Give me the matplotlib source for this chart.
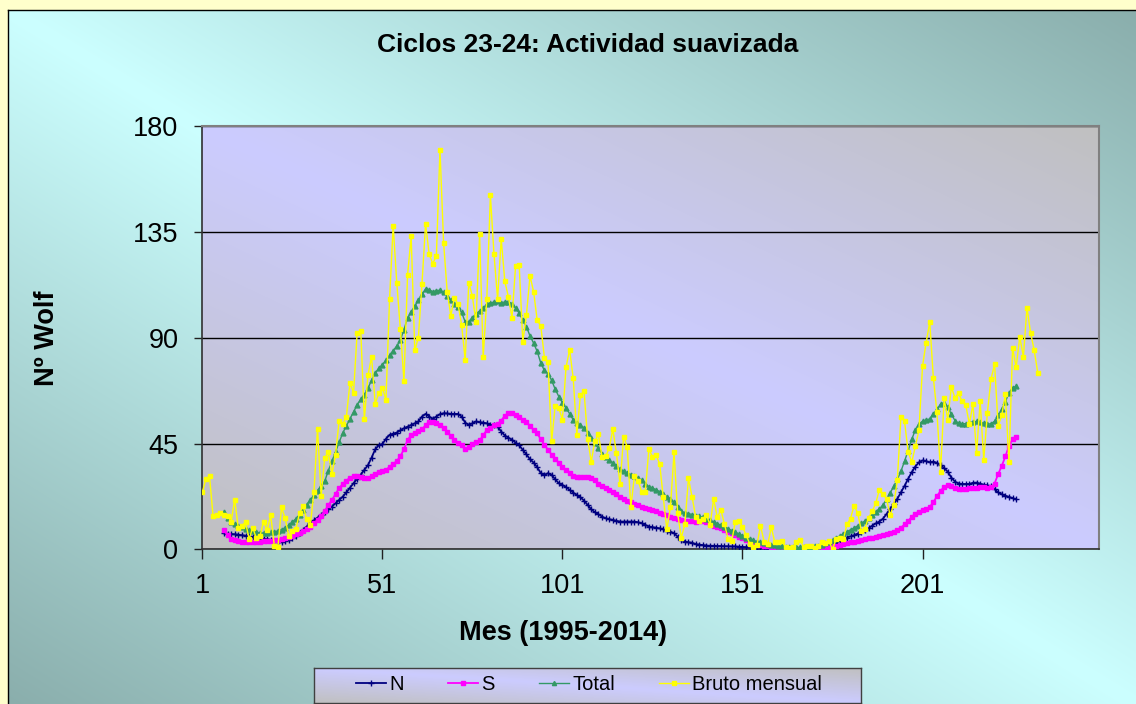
import numpy as np
import matplotlib
matplotlib.use("Agg")
import matplotlib.pyplot as plt
from matplotlib.lines import Line2D

plt.rcParams['font.family'] = ['Liberation Sans', 'DejaVu Sans']

# ---------------- data ----------------
months_raw = list(range(1, 234))
bruto = [
    24.2, 29.9, 31.1, 14.0, 14.5, 15.6, 14.5, 14.3, 11.8, 21.1, 9.0, 10.0,
    11.5, 4.4, 9.2, 4.8, 5.5, 11.8, 8.2, 14.4, 1.6, 0.9, 17.9, 13.3,
    5.7, 7.6, 8.7, 15.5, 18.5, 12.7, 10.4, 24.4, 51.3, 22.8, 39.0, 41.2,
    31.9, 40.3, 54.8, 53.4, 56.3, 70.7, 66.6, 92.2, 92.9, 55.5, 74.0, 81.9,
    62.0, 66.3, 68.8, 63.7, 106.4, 137.7, 113.5, 93.7, 71.5, 116.7, 133.2, 84.6,
    90.1, 112.9, 138.5, 125.5, 121.6, 124.9, 170.1, 130.5, 109.7, 99.4, 106.8, 104.4,
    95.6, 80.6, 113.5, 107.7, 96.6, 134.0, 81.8, 106.4, 150.7, 125.5, 106.5, 132.2,
    114.1, 107.4, 98.4, 120.7, 120.8, 88.3, 99.6, 116.4, 109.6, 97.5, 95.0, 81.6,
    79.5, 46.0, 61.1, 60.0, 55.2, 77.4, 85.0, 72.7, 48.8, 65.6, 67.2, 47.0,
    37.2, 46.0, 48.9, 39.3, 39.5, 43.1, 51.1, 40.9, 27.7, 48.0, 43.5, 17.9,
    31.3, 29.2, 24.5, 24.2, 42.7, 39.3, 40.1, 36.4, 22.1, 8.5, 18.0, 41.2,
    15.3, 4.9, 10.6, 30.2, 22.3, 13.9, 12.2, 12.9, 14.4, 10.5, 21.4, 13.6,
    16.8, 10.7, 4.5, 3.4, 11.7, 12.1, 9.7, 6.0, 2.4, 0.9, 1.7, 10.1,
    3.3, 2.1, 9.3, 2.9, 3.2, 3.4, 0.8, 0.5, 1.1, 2.9, 4.1, 0.8,
    1.5, 1.4, 0.7, 1.2, 2.9, 2.6, 3.5, 0.0, 4.4, 4.6, 4.2, 10.6,
    13.1, 18.6, 15.4, 7.9, 8.8, 13.5, 16.1, 19.6, 25.2, 23.5, 21.6, 14.5,
    19.0, 29.4, 56.2, 54.4, 41.6, 37.0, 43.9, 50.6, 78.0, 88.0, 96.7, 73.0,
    58.3, 33.1, 64.2, 55.2, 69.0, 64.5, 66.5, 63.0, 61.4, 53.3, 61.8, 40.8,
    62.9, 38.1, 57.9, 72.4, 78.7, 52.5, 57.0, 66.0, 37.0, 85.6, 77.6, 90.3,
    82.0, 102.8, 92.2, 84.7, 75.2,
]

months_smooth = list(range(7, 228))
n_vals = [
    6.8, 6.6, 6.5, 6.4, 6.2, 6.0, 5.8, 5.5, 5.2, 5.0, 4.8, 4.5, 4.3, 4.0, 3.6, 3.3,
    3.3, 3.6, 4.1, 4.7, 5.8, 7.0, 8.2, 9.7, 11.1, 12.3, 13.5, 14.6, 15.8, 17.0,
    18.2, 19.6, 21.0, 22.4, 24.2, 26.2, 28.1, 30.0, 31.8, 33.8, 35.8, 39.0, 42.5, 44.3,
    44.8, 47.0, 48.7, 49.2, 49.7, 50.6, 51.5, 52.2, 52.9, 53.6, 54.4, 56.5, 57.6, 56.5,
    55.5, 56.5, 57.5, 57.9, 57.8, 57.6, 57.6, 57.6, 56.5, 53.9, 52.9, 53.6, 54.4, 54.1,
    53.9, 53.6, 52.9, 52.9, 52.2, 50.1, 48.4, 47.5, 46.6, 45.4, 44.2, 42.3, 40.4, 38.3,
    36.9, 34.9, 32.4, 31.6, 32.4, 31.6, 29.8, 28.1,
    27.4, 26.4, 25.3, 24.1, 23.1, 22.1, 20.7, 18.9, 17.0, 15.8, 14.9, 13.9, 13.2, 12.8,
    12.5, 12.1, 11.8, 11.8, 11.8, 11.8, 11.8, 11.5, 11.1, 10.4, 9.7, 9.4, 9.2, 8.9,
    8.5, 7.9, 7.5, 6.8, 5.4, 4.0, 3.3, 3.0, 2.8, 2.2, 2.0, 1.8, 1.6, 1.5, 1.5, 1.4,
    1.4, 1.3, 1.3, 1.2, 1.2, 1.1,
    1.0, 0.9, 0.8, 0.7, 0.6, 0.5, 0.4, 0.3, 0.3, 0.2, 0.2, 0.2, 0.2, 0.1, 0.1, 0.2,
    0.3, 0.4, 0.5, 0.6, 0.8, 0.9, 1.1, 1.3, 1.5, 2.0, 2.8, 3.6, 4.4, 5.0, 5.5, 6.0,
    6.7, 7.4, 8.1, 9.0, 10.0, 11.0, 11.8, 13.0, 15.0, 17.2, 19.2, 21.5, 24.2, 27.0,
    30.0, 32.8, 35.2, 37.0,
    37.8, 37.5, 37.0, 37.3, 36.8, 35.8, 34.6, 33.0, 30.5, 28.8, 28.0, 27.8, 27.8, 27.8,
    28.3, 28.4, 27.9, 27.5, 27.2, 26.8, 25.6, 24.2, 23.4, 22.8, 22.3, 21.8, 21.2,
]
s_vals = [
    8.2, 6.0, 4.5, 3.8, 3.5, 3.3, 3.2, 3.2, 3.2, 3.3, 3.3, 3.4, 3.5, 3.6, 3.8, 4.0,
    4.3, 4.7, 5.2, 5.8, 6.4, 7.0, 7.8, 8.6, 9.6, 11.0, 12.6, 14.3, 16.3, 18.8,
    21.0, 23.5, 26.0, 27.8, 29.2, 30.5, 31.0, 31.2, 30.8, 30.3, 30.4, 31.0, 32.0, 33.0,
    33.4, 33.6, 35.2, 36.2, 37.6, 39.6, 42.6, 46.5, 48.6, 49.6, 50.2, 51.0, 52.8, 54.3,
    54.2, 53.8, 52.8, 51.5, 49.9, 48.3, 46.7, 45.3, 44.2, 42.6, 43.5, 44.9, 45.8, 46.3,
    48.5, 50.8, 51.8, 52.7, 53.3, 54.8, 56.8, 57.9, 57.9, 57.2, 56.3, 55.1, 54.3, 52.5,
    50.8, 49.3, 46.8, 44.5, 42.3, 40.3, 38.3, 36.9,
    35.0, 33.7, 32.4, 31.0, 30.6, 30.8, 30.9, 30.7, 30.3, 29.3, 28.0, 26.8, 25.9, 25.1,
    24.3, 23.4, 22.3, 21.4, 20.6, 20.0, 19.4, 18.8, 18.2, 17.5, 17.0, 16.6, 16.2, 15.6,
    15.0, 14.5, 13.9, 13.3, 12.8, 12.3, 12.2, 12.2, 12.0, 11.8, 12.0, 11.9, 11.5, 10.8,
    10.1, 9.5, 8.9, 8.3, 7.5, 6.8, 6.1, 5.4,
    4.6, 3.9, 3.3, 2.8, 2.3, 1.9, 1.6, 1.3, 1.1, 0.9, 0.7, 0.5, 0.3, 0.2, 0.1, 0.1,
    0.1, 0.1, 0.2, 0.3, 0.4, 0.5, 0.6, 0.8, 1.0, 1.2, 1.5, 1.8, 2.1, 2.5, 2.9, 3.3,
    3.7, 4.0, 4.4, 4.7, 4.9, 5.2, 5.5, 5.9, 6.3, 6.8, 7.4, 8.2, 9.2, 10.6, 12.0, 13.8,
    15.2, 16.0,
    16.6, 17.1, 18.0, 20.0, 22.6, 24.8, 26.6, 27.3, 26.8, 26.0, 25.6, 25.5, 25.7, 25.9,
    26.0, 26.1, 26.3, 26.3, 26.1, 26.3, 28.0, 32.0, 35.5, 39.5, 44.0, 46.8, 47.8,
]
total_vals = [
    15.8, 13.5, 11.8, 10.6, 10.0, 9.3, 8.6, 8.2, 7.8, 7.3, 7.0, 6.9, 7.0, 7.2, 7.5, 7.8,
    8.4, 9.2, 10.3, 11.6, 13.0, 14.8, 16.8, 19.0, 21.0, 23.0, 25.0, 27.0, 29.0, 33.5,
    37.5, 41.5, 45.5, 49.5, 52.5, 55.5, 58.5, 61.5, 63.8, 65.8, 68.5, 72.0, 75.0, 77.0,
    78.5, 80.5, 82.5, 84.5, 86.5, 89.0, 93.5, 98.5, 101.0, 103.5, 106.0, 108.5, 110.8, 110.5,
    109.6, 110.0, 110.3, 109.4, 107.8, 106.0, 104.4, 103.0, 100.8, 96.8, 96.8, 98.6, 100.3, 101.4,
    102.6, 104.4, 104.7, 105.3, 105.5, 105.0, 105.2, 105.4, 104.5, 102.6, 100.5, 97.4, 94.7, 90.8,
    87.7, 84.2, 79.2, 76.1, 74.7, 71.9, 68.1, 65.0,
    62.4, 60.1, 57.7, 55.1, 53.7, 52.9, 51.6, 49.6, 47.3, 45.1, 42.9, 40.7, 39.1, 37.9,
    36.8, 35.5, 34.1, 33.2, 32.4, 31.8, 31.2, 30.3, 29.3, 27.9, 26.7, 26.0, 25.4, 24.5,
    23.5, 22.4, 21.4, 20.1, 18.2, 16.3, 15.5, 15.2, 14.8, 14.0, 14.0, 13.7, 13.1, 12.3,
    11.6, 10.9, 10.3, 9.6, 8.8, 8.0, 7.3, 6.5,
    5.8, 5.0, 4.3, 3.8, 3.3, 2.9, 2.5, 2.2, 1.9, 1.7, 1.5, 1.3, 1.1, 1.0, 0.9, 0.8,
    0.8, 0.9, 1.0, 1.1, 1.3, 1.6, 2.0, 2.5, 3.1, 3.9, 4.8, 5.7, 6.6, 7.5, 8.3, 9.1,
    10.0, 11.0, 12.1, 13.3, 14.6, 16.0, 17.2, 18.8, 21.2, 24.0, 26.8, 29.8, 33.2, 37.5,
    42.0, 46.8, 50.8, 53.3,
    54.5, 55.0, 55.5, 57.5, 59.5, 61.8, 62.3, 60.5, 57.5, 54.8, 53.6, 53.3, 53.5, 53.8,
    54.3, 54.4, 54.0, 53.6, 53.3, 53.4, 54.5, 57.0, 59.5, 62.8, 66.5, 68.8, 69.3,
]

x_ticks = [1, 51, 101, 151, 201]
y_ticks = [0, 45, 90, 135, 180]
series_names = ["N", "S", "Total", "Bruto mensual"]

title = "Ciclos 23-24: Actividad suavizada"
xlabel = "Mes (1995-2014)"
ylabel = "Nº Wolf"

# ---------------- figure ----------------
W, H, DPI = 1136, 704, 100
fig = plt.figure(figsize=(W / DPI, H / DPI), dpi=DPI)
fig.patch.set_facecolor('#FFFFCC')


def grad(c_light, c_dark, nx=300, ny=200):
    cl = np.array(c_light, dtype=float) / 255.0
    cd = np.array(c_dark, dtype=float) / 255.0
    xs = np.linspace(0, 1, nx)
    ys = np.linspace(0, 1, ny)
    X, Y = np.meshgrid(xs, ys)
    t = np.clip(np.abs(X - Y), 0, 1)[..., None]
    return cl * (1 - t) + cd * t


def px_axes(x0, y0, x1, y1, **kw):
    # pixel box (top-left origin) -> figure axes
    return fig.add_axes([x0 / W, 1 - y1 / H, (x1 - x0) / W, (y1 - y0) / H], **kw)


# chart area background
ca = px_axes(8, 10, W + 2, H + 2, zorder=-3)
ca.imshow(grad((204, 255, 255), (138, 174, 172)), aspect='auto',
          extent=[0, 1, 0, 1], interpolation='bilinear')
ca.set_axis_off()
fig.add_artist(Line2D([7.5 / W, 7.5 / W], [0, 1 - 9.5 / H], color='black', lw=1.0,
                      transform=fig.transFigure, zorder=-2))
fig.add_artist(Line2D([7.5 / W, 1], [1 - 9.5 / H, 1 - 9.5 / H], color='black', lw=1.0,
                      transform=fig.transFigure, zorder=-2))

# plot area
PX0, PY0, PX1, PY1 = 202.3, 126.3, 1099, 549.3
pa = px_axes(PX0, PY0, PX1, PY1, zorder=-1)
pa.imshow(grad((204, 204, 255), (192, 192, 192)), aspect='auto',
          extent=[0, 1, 0, 1], interpolation='bilinear')
pa.set_axis_off()

ax = px_axes(PX0, PY0, PX1, PY1, zorder=0)
ax.set_facecolor('none')

l_n, = ax.plot(months_smooth, n_vals, color='#000080', lw=1.3, marker='+',
               ms=4, mew=1.0, zorder=3)
l_s, = ax.plot(months_smooth, s_vals, color='#FF00FF', lw=1.3, marker='s',
               ms=3.0, mec='#FF00FF', mfc='#FF00FF', zorder=4)
l_t, = ax.plot(months_smooth, total_vals, color='#339966', lw=1.0, marker='^',
               ms=3.5, mec='#339966', mfc='#339966', zorder=5)
l_b, = ax.plot(months_raw, bruto, color='#FFFF00', lw=1.0, marker='s',
               ms=3.0, mec='#FFFF00', mfc='#FFFF00', zorder=6)

ax.set_xlim(1, 250)
ax.set_ylim(0, 180)
ax.set_xticks(x_ticks)
ax.set_xticklabels([str(v) for v in x_ticks])
ax.set_yticks(y_ticks)
ax.set_yticklabels([str(v) for v in y_ticks])
ax.yaxis.grid(True, color='black', lw=1.0, zorder=1)
ax.set_axisbelow(True)
ax.tick_params(axis='y', direction='out', length=5.8, width=1.0, pad=11.5,
               labelsize=19.5, colors='#202020', labelcolor='black')
ax.tick_params(axis='x', direction='out', length=7.0, width=1.0, pad=10,
               labelsize=19.5, colors='#202020', labelcolor='black')
for side in ('left', 'bottom'):
    ax.spines[side].set_color('#303030')
    ax.spines[side].set_linewidth(1.2)
for side in ('top', 'right'):
    ax.spines[side].set_color('#808080')
    ax.spines[side].set_linewidth(1.5)

fig.text(588 / W, 1 - 45 / H, title, ha='center', va='center',
         fontsize=19, fontweight='bold')
fig.text(563 / W, 1 - 633 / H, xlabel, ha='center', va='center',
         fontsize=19.5, fontweight='bold')
fig.text(47 / W, 1 - 338 / H, ylabel, ha='center', va='center', rotation=90,
         fontsize=19.5, fontweight='bold')

# legend box (gradient filled, framed)
lg = px_axes(313.5, 667.5, 860.5, 702.5, zorder=2)
lg.imshow(grad((204, 204, 255), (192, 192, 192)), aspect='auto',
          extent=[0, 1, 0, 1], interpolation='bilinear')
lg.set_xticks([])
lg.set_yticks([])
for sp in lg.spines.values():
    sp.set_color('#404040')
    sp.set_linewidth(1.0)

h_n = Line2D([], [], color='#000080', lw=1.3, marker='+', ms=4, mew=1.0)
h_s = Line2D([], [], color='#FF00FF', lw=1.3, marker='s', ms=3.0)
h_t = Line2D([], [], color='#339966', lw=1.0, marker='^', ms=3.0)
h_b = Line2D([], [], color='#FFFF00', lw=1.0, marker='s', ms=3.0)
leg = fig.legend([h_n, h_s, h_t, h_b], series_names, loc='center',
                 bbox_to_anchor=(589 / W, 1 - 685 / H), ncol=4, fontsize=14.5,
                 handlelength=1.5, handletextpad=0.15, columnspacing=2.2,
                 borderpad=0.3, frameon=False)
leg.set_zorder(5)

fig.savefig('out.png', dpi=DPI, facecolor=fig.get_facecolor())
